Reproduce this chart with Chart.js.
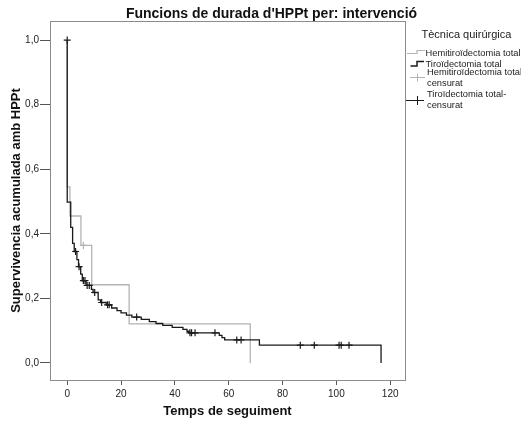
<!DOCTYPE html>
<html>
<head>
<meta charset="utf-8">
<script src="https://cdn.jsdelivr.net/npm/chart.js"></script>
<style>
  html, body { margin: 0; padding: 0; background: #fff; }
  #wrap { width: 521px; height: 423px; }
</style>
</head>
<body>
<div id="wrap"><canvas id="km" width="521" height="423"></canvas></div>
<script>
// Hemitiroïdectomia total
var hemiTime = [0, 0, 1.0, 5.1, 9.1, 23.0, 68.0];
var hemiSurv = [1, 0.545, 0.455, 0.364, 0.242, 0.121, 0];
var hemiCensTime = [6.0];
var hemiCensSurv = [0.364];

// Tiroïdectomia total
var tiroTime = [0, 0, 1.3, 2.0, 2.6, 3.6, 4.2, 5.0, 5.6, 7.0, 9.0, 9.6, 11.5, 12.4, 14.5, 16.5, 18.5, 20, 22, 24, 27.5, 30.5, 33, 35.5, 39, 43, 44.5, 45.3, 56.5, 57.5, 58.5, 71.4, 116.6];
var tiroSurv = [1, 0.498, 0.42, 0.37, 0.345, 0.32, 0.298, 0.275, 0.255, 0.24, 0.228, 0.218, 0.195, 0.187, 0.18, 0.17, 0.162, 0.155, 0.148, 0.142, 0.135, 0.128, 0.122, 0.116, 0.11, 0.104, 0.098, 0.093, 0.085, 0.078, 0.071, 0.055, 0];
var tiroCensTime = [0, 3.1, 4.4, 6.0, 6.6, 7.4, 8.2, 10.2, 12.8, 15.0, 15.6, 25.8, 45.6, 46.2, 47.5, 54.9, 63.0, 64.6, 86.6, 91.8, 101.0, 101.8, 104.7];
var tiroCensSurv = [1, 0.345, 0.298, 0.255, 0.255, 0.24, 0.24, 0.218, 0.187, 0.18, 0.18, 0.142, 0.093, 0.093, 0.093, 0.093, 0.071, 0.071, 0.055, 0.055, 0.055, 0.055, 0.055];

var xTicks = [0, 20, 40, 60, 80, 100, 120];
var yTicks = [0, 0.2, 0.4, 0.6, 0.8, 1.0];

var GREY = '#b3b3b3';
var BLACK = '#1a1a1a';

function pts(xs, ys) {
	var out = [];
	for (var i = 0; i < xs.length; i++) out.push({x: xs[i], y: ys[i]});
	return out;
}

// title, frame and legend
var extras = {
	id: 'extras',
	afterDraw: function(chart) {
		var ctx = chart.ctx;
		var a = chart.chartArea;
		ctx.save();
		ctx.strokeStyle = '#8c8c8c';
		ctx.lineWidth = 1;
		ctx.strokeRect(Math.round(a.left) + 0.5, Math.round(a.top) + 0.5, Math.round(a.right - a.left), Math.round(a.bottom - a.top));

		ctx.fillStyle = '#111';
		ctx.textAlign = 'center';
		ctx.textBaseline = 'alphabetic';
		ctx.font = 'bold 14px "Liberation Sans", Arial, sans-serif';
		ctx.fillText("Funcions de durada d'HPPt per: intervenció", 271.5, 17.5);

		ctx.textAlign = 'left';
		ctx.fillStyle = '#222';
		ctx.font = '11px "Liberation Sans", Arial, sans-serif';
		ctx.fillText('Tècnica quirúrgica', 421.5, 37.5);

		ctx.font = '9.3px "Liberation Sans", Arial, sans-serif';
		ctx.lineWidth = 1.2;
		// step symbols
		ctx.strokeStyle = GREY;
		ctx.beginPath();
		ctx.moveTo(407, 53.5); ctx.lineTo(417, 53.5); ctx.lineTo(417, 50.5); ctx.lineTo(425, 50.5);
		ctx.stroke();
		ctx.fillText('Hemitiroïdectomia total', 425.5, 56);
		ctx.strokeStyle = BLACK;
		ctx.lineWidth = 1.5;
		ctx.beginPath();
		ctx.moveTo(410.5, 66); ctx.lineTo(417, 66); ctx.lineTo(417, 61.5); ctx.lineTo(424, 61.5);
		ctx.stroke();
		ctx.fillText('Tiroïdectomia total', 425.5, 66.5);
		// censor symbols
		ctx.lineWidth = 1;
		ctx.strokeStyle = GREY;
		ctx.beginPath();
		ctx.moveTo(410, 77.5); ctx.lineTo(425, 77.5);
		ctx.moveTo(417.5, 73.5); ctx.lineTo(417.5, 81.5);
		ctx.stroke();
		ctx.fillText('Hemitiroïdectomia total-', 427, 74.5);
		ctx.fillText('censurat', 427, 86);
		ctx.strokeStyle = BLACK;
		ctx.beginPath();
		ctx.moveTo(406, 100.5); ctx.lineTo(424, 100.5);
		ctx.moveTo(417.5, 96); ctx.lineTo(417.5, 105);
		ctx.stroke();
		ctx.fillText('Tiroïdectomia total-', 427, 97);
		ctx.fillText('censurat', 427, 108);
		ctx.restore();
	}
};

var ctx = document.getElementById('km');

var kmChart = new Chart(ctx, {
	type: 'line',
	data: {
		datasets: [
			{
				label: 'Tiroïdectomia total-censurat',
				data: pts(tiroCensTime, tiroCensSurv),
				showLine: false,
				pointStyle: 'cross',
				pointRadius: 3.5,
				pointBorderWidth: 1.2,
				pointBorderColor: BLACK,
				borderColor: BLACK,
				order: 0
			},
			{
				label: 'Tiroïdectomia total',
				data: pts(tiroTime, tiroSurv),
				stepped: 'before',
				borderColor: BLACK,
				borderWidth: 1.3,
				pointRadius: 0,
				fill: false,
				order: 1
			},
			{
				label: 'Hemitiroïdectomia total-censurat',
				data: pts(hemiCensTime, hemiCensSurv),
				showLine: false,
				pointStyle: 'cross',
				pointRadius: 3.5,
				pointBorderWidth: 1.2,
				pointBorderColor: GREY,
				borderColor: GREY,
				order: 2
			},
			{
				label: 'Hemitiroïdectomia total',
				data: pts(hemiTime, hemiSurv),
				stepped: 'before',
				borderColor: GREY,
				borderWidth: 1.3,
				pointRadius: 0,
				fill: false,
				order: 3
			}
		]
	},
	options: {
		responsive: false,
		animation: false,
		events: [],
		layout: { padding: { left: 0, right: 116, top: 21, bottom: 0 } },
		plugins: {
			legend: { display: false },
			title: { display: false },
			tooltip: { enabled: false }
		},
		scales: {
			x: {
				type: 'linear',
				min: -6.4,
				max: 125.5,
				afterFit: function(s) { s.height = 43; },
				afterBuildTicks: function(s) { s.ticks = xTicks.map(function(v) { return {value: v}; }); },
				grid: { display: true, drawOnChartArea: false, drawTicks: true, tickLength: 5, color: '#555' },
				border: { display: true, color: '#8c8c8c' },
				ticks: {
					padding: 3,
					maxRotation: 0,
					color: '#222',
					font: { family: '"Liberation Sans", Arial, sans-serif', size: 10 },
					callback: function(v) { return v; }
				},
				title: {
					display: true,
					text: 'Temps de seguiment',
					color: '#111',
					padding: { top: 0, bottom: 4 },
					font: { family: '"Liberation Sans", Arial, sans-serif', size: 13, weight: 'bold' }
				}
			},
			y: {
				type: 'linear',
				min: -0.053,
				max: 1.059,
				afterFit: function(s) { s.width = 50; },
				afterBuildTicks: function(s) { s.ticks = yTicks.map(function(v) { return {value: v}; }); },
				grid: { display: true, drawOnChartArea: false, drawTicks: true, tickLength: 10, color: '#555' },
				border: { display: true, color: '#8c8c8c' },
				ticks: {
					padding: 1,
					color: '#222',
					font: { family: '"Liberation Sans", Arial, sans-serif', size: 10 },
					callback: function(v) { return v.toFixed(1).replace('.', ','); }
				},
				title: {
					display: true,
					text: 'Supervivencia acumulada amb HPPt',
					color: '#111',
					padding: { top: 9, bottom: 0 },
					font: { family: '"Liberation Sans", Arial, sans-serif', size: 13, weight: 'bold' }
				}
			}
		}
	},
	plugins: [extras]
});
</script>
</body>
</html>
